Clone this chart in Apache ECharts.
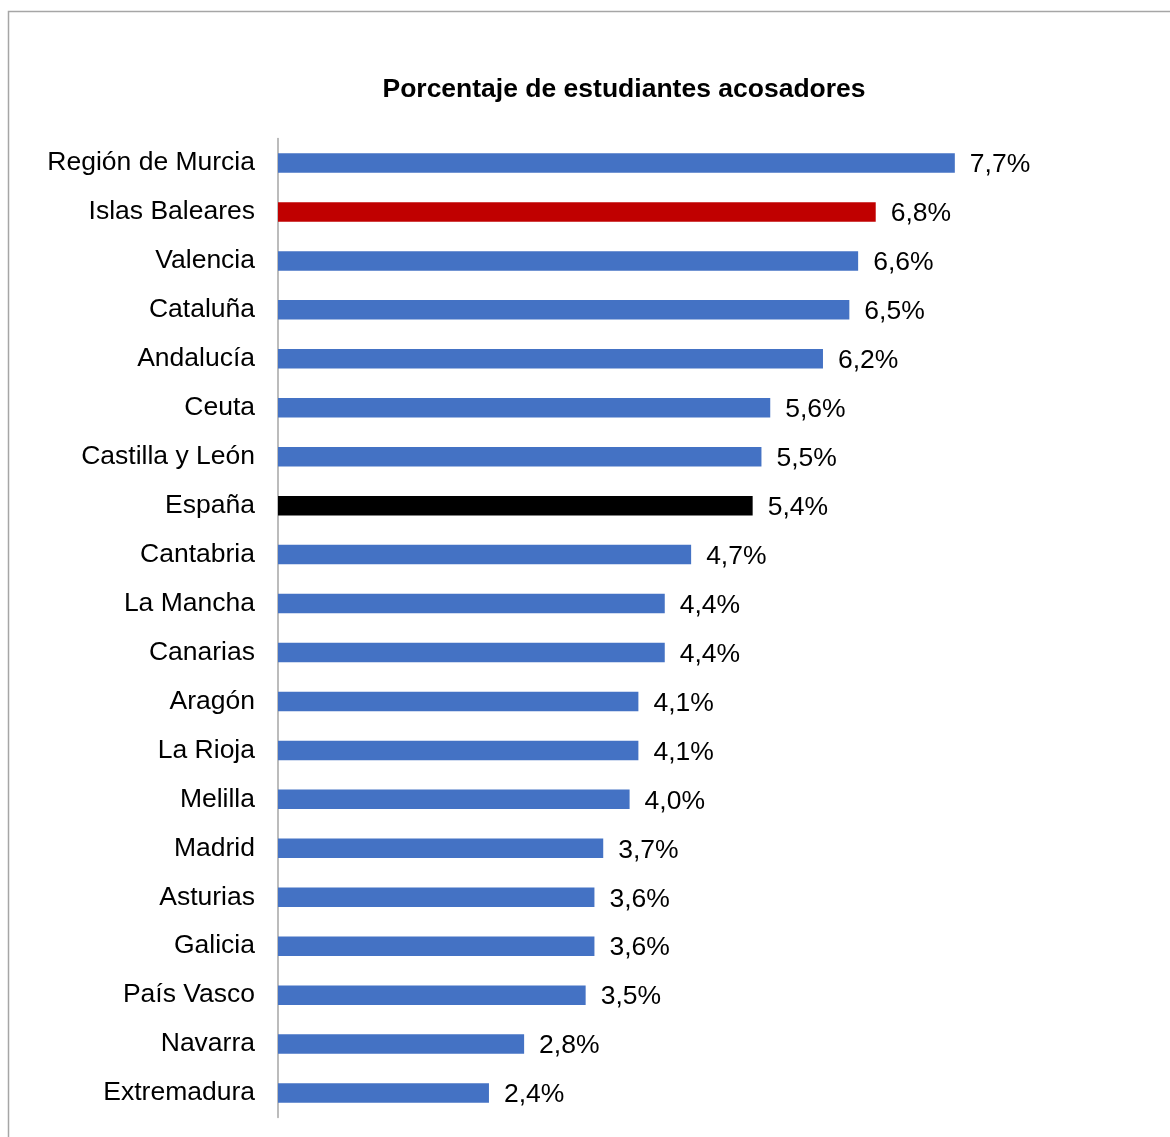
<!DOCTYPE html>
<html><head><meta charset="utf-8">
<script src="https://cdn.jsdelivr.net/npm/echarts@6/dist/echarts.min.js"></script>
<style>html,body{margin:0;padding:0;background:#fff}#c{width:1170px;height:1137px}</style>
</head><body><div id="c"></div>
<script>
const categories = ["Región de Murcia","Islas Baleares","Valencia","Cataluña","Andalucía","Ceuta","Castilla y León","España","Cantabria","La Mancha","Canarias","Aragón","La Rioja","Melilla","Madrid","Asturias","Galicia","País Vasco","Navarra","Extremadura"];
const values = [7.7,6.8,6.6,6.5,6.2,5.6,5.5,5.4,4.7,4.4,4.4,4.1,4.1,4.0,3.7,3.6,3.6,3.5,2.8,2.4];
const highlight = {"Islas Baleares":"#C00000","España":"#000000"};
const baseColor = "#4472C4";
const titleText = "Porcentaje de estudiantes acosadores";

const chart = echarts.init(document.getElementById('c'));
chart.setOption({
  animation:false,
  backgroundColor:'#fff',
  title:{text:titleText,left:619,top:85,textAlign:'center',textVerticalAlign:'middle',
    textStyle:{fontFamily:'Liberation Sans',fontSize:26.5,fontWeight:'bold',color:'#000'}},
  graphic:[{type:'rect',shape:{x:8.5,y:11.5,width:1200,height:1200},style:{fill:null,stroke:'#A6A6A6',lineWidth:1.5},silent:true}],
  grid:{left:278,top:138.5,width:879,height:979},
  xAxis:{type:'value',min:0,max:10,show:false},
  yAxis:{type:'category',data:categories,inverse:true,
    axisLine:{show:true,lineStyle:{color:'#A6A6A6',width:1.5}},
    axisTick:{show:false},
    axisLabel:{fontFamily:'Liberation Sans',fontSize:26.5,color:'#000',margin:23,padding:[4,0,0,0]}},
  series:[{type:'bar',barWidth:19.5,
    data:values.map((v,i)=>({value:v,itemStyle:{color:highlight[categories[i]]||baseColor}})),
    label:{show:true,position:'right',distance:15,offset:[0,2],fontFamily:'Liberation Sans',fontSize:26.5,color:'#000',
      formatter:p=>p.value.toFixed(1).replace('.',',')+'%'}}]
});
</script></body></html>
